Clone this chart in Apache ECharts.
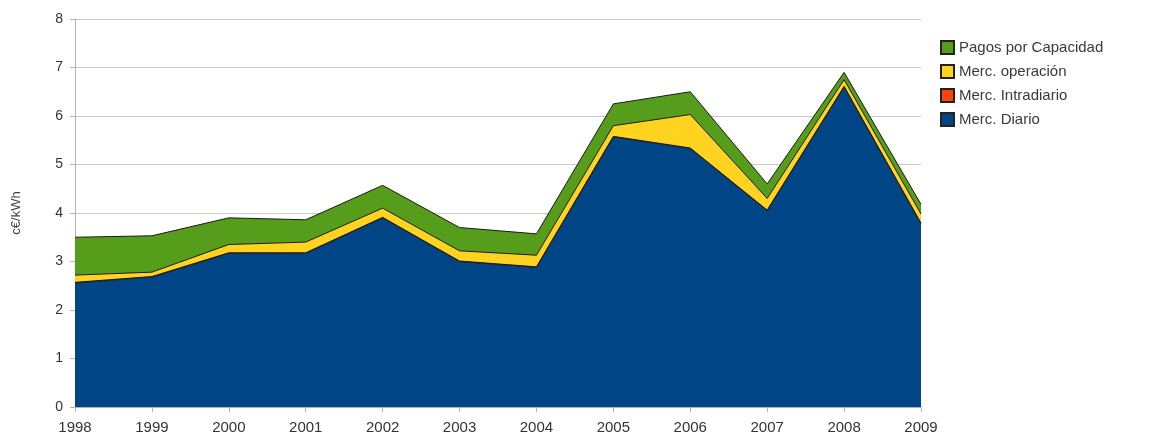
<!DOCTYPE html>
<html>
<head>
<meta charset="utf-8">
<script src="https://cdn.jsdelivr.net/npm/echarts@6/dist/echarts.min.js"></script>
<style>
  html, body { margin: 0; padding: 0; background: #fff; }
  #chart { width: 1169px; height: 441px; }
</style>
</head>
<body>
<div id="chart"></div>
<script>
// años
const years = ['1998','1999','2000','2001','2002','2003','2004','2005','2006','2007','2008','2009'];
// c€/kWh por componente
const diario      = [2.56, 2.68, 3.17, 3.17, 3.90, 3.00, 2.88, 5.57, 5.33, 4.05, 6.60, 3.78];
const intradiario = [0.01, 0.01, 0.01, 0.01, 0.01, 0.01, 0.01, 0.01, 0.01, 0.01, 0.01, 0.01];
const operacion   = [0.15, 0.09, 0.17, 0.22, 0.19, 0.21, 0.24, 0.22, 0.69, 0.24, 0.14, 0.19];
const pagos       = [0.78, 0.75, 0.55, 0.46, 0.47, 0.48, 0.44, 0.45, 0.47, 0.30, 0.15, 0.20];
const yTicks = [0, 8, 1];

const colors = ['#004586', '#ff420e', '#ffd320', '#579d1c'];

function serie(name, data, color) {
  return {
    name: name,
    type: 'line',
    stack: 'total',
    data: data,
    symbol: 'none',
    lineStyle: { color: '#1a1a1a', width: 1 },
    areaStyle: { color: color, opacity: 1 },
    itemStyle: { color: color, borderColor: '#222', borderWidth: 1 }
  };
}

const myChart = echarts.init(document.getElementById('chart'));
myChart.setOption({
  animation: false,
  textStyle: { fontFamily: 'Liberation Sans, DejaVu Sans, sans-serif' },
  grid: { left: 75, right: 248, top: 19, bottom: 34 },
  legend: {
    orient: 'vertical',
    left: 935,
    top: 35,
    itemWidth: 13,
    itemHeight: 13,
    itemGap: 9,
    icon: 'rect',
    textStyle: { fontSize: 15, color: '#3a3a3a' },
    data: ['Pagos por Capacidad', 'Merc. operación', 'Merc. Intradiario', 'Merc. Diario']
  },
  xAxis: {
    type: 'category',
    boundaryGap: false,
    data: years,
    axisLine: { lineStyle: { color: '#b3b3b3' } },
    axisTick: { show: true, length: 5, lineStyle: { color: '#b3b3b3' } },
    axisLabel: { color: '#333', fontSize: 15, margin: 13 }
  },
  yAxis: {
    type: 'value',
    min: yTicks[0],
    max: yTicks[1],
    interval: yTicks[2],
    name: 'c€/kWh',
    nameLocation: 'middle',
    nameGap: 52,
    nameTextStyle: { color: '#444', fontSize: 13 },
    axisLine: { show: true, lineStyle: { color: '#b3b3b3' } },
    axisTick: { show: true, length: 5, lineStyle: { color: '#b3b3b3' } },
    axisLabel: { color: '#333', fontSize: 14, margin: 12 },
    splitLine: { lineStyle: { color: '#c8c8c8' } }
  },
  series: [
    serie('Merc. Diario', diario, colors[0]),
    serie('Merc. Intradiario', intradiario, colors[1]),
    serie('Merc. operación', operacion, colors[2]),
    serie('Pagos por Capacidad', pagos, colors[3])
  ]
});
</script>
</body>
</html>
